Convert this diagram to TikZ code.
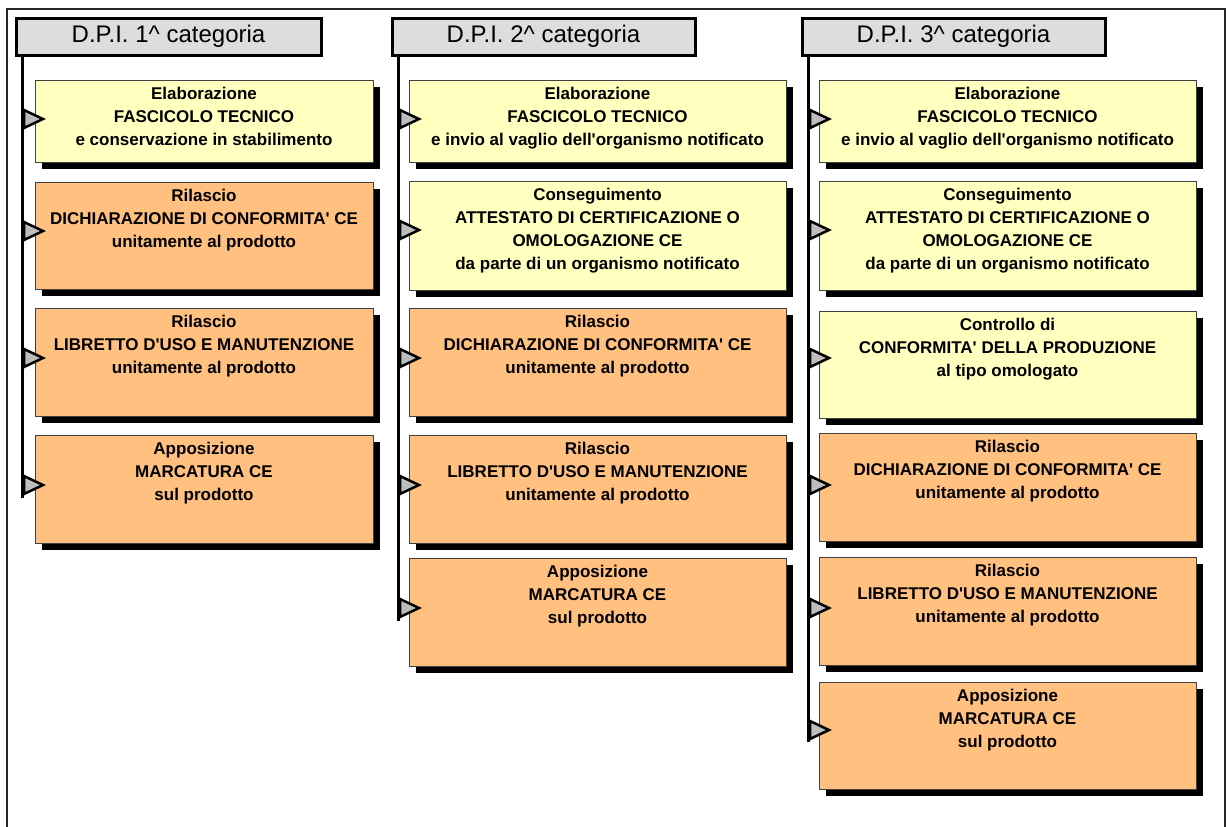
\documentclass[tikz,border=0pt]{standalone}
\usepackage{fontspec}
\setmainfont{Liberation Sans}
\usetikzlibrary{shadows}
\definecolor{boxyellow}{HTML}{FFFFC0}
\definecolor{boxorange}{HTML}{FFC080}
\definecolor{headgray}{HTML}{DDDDDD}
\definecolor{trigray}{HTML}{BDBDBD}
\definecolor{boxline}{HTML}{404040}
\newcommand{\apos}{\textquotesingle}
\newcommand{\mybox}[7]{%
  \node[box,#6,minimum width=#5,minimum height={#4-#3}] (#1) at (#2,{(#3+#4)/2}) {};
  \node[boxtext] (#1t) at ([yshift=-7pt]#1.north) {#7};
}
\newcommand{\mytri}[3]{%
  \coordinate (#1) at (#2,#3);
  \draw[tri] (#1) ++(2,-9) -- ++(19,9) -- ++(-19,9) -- cycle;
}
\begin{document}
\begin{tikzpicture}[x=1pt,y=-1pt,
  frame/.style={draw=black!85,line width=2pt},
  header/.style={draw=black,line width=3pt,fill=headgray,minimum width=303,minimum height=37,inner sep=0pt,font=\fontsize{24}{28}\selectfont},
  box/.style={draw=boxline,line width=0.8pt,inner sep=0pt,
    drop shadow={shadow xshift=6.5pt,shadow yshift=-6.5pt,fill=black,opacity=1}},
  yel/.style={fill=boxyellow},
  ora/.style={fill=boxorange},
  boxtext/.style={anchor=north,align=center,inner sep=0pt,font=\fontsize{17}{23}\selectfont\bfseries},
  tri/.style={draw=black,line width=2.5pt,fill=trigray,line join=miter},
  vline/.style={draw=black,line width=3pt}]
\useasboundingbox (0,0) rectangle (1226,827);
\fill[white] (0,0) rectangle (1226,827);
\draw[frame] (7,827) -- (7,9) -- (1225,9) -- (1225,827);

% headers
\node[header,minimum width=305] (h1) at (168.5,36.5) {D.P.I. 1\textasciicircum{} categoria};
\node[header] (h2) at (543.5,36.5) {D.P.I. 2\textasciicircum{} categoria};
\node[header] (h3) at (953.5,36.5) {D.P.I. 3\textasciicircum{} categoria};

% column 1
\mybox{a1}{204}{80}{162}{338}{yel}{Elaborazione\\FASCICOLO TECNICO\\e conservazione in stabilimento}
\mybox{a2}{204}{182}{289}{338}{ora}{Rilascio\\DICHIARAZIONE DI CONFORMITA\apos{} CE\\unitamente al prodotto}
\mybox{a3}{204}{308}{416}{338}{ora}{Rilascio\\LIBRETTO D\apos{}USO E MANUTENZIONE\\unitamente al prodotto}
\mybox{a4}{204}{435}{543}{338}{ora}{Apposizione\\MARCATURA CE\\sul prodotto}
\draw[vline] (h1.south -| 22,0) -- (22,498);
\mytri{ta1}{22}{119}
\mytri{ta2}{22}{231}
\mytri{ta3}{22}{358}
\mytri{ta4}{22}{485}

% column 2
\mybox{b1}{597.5}{80}{162}{377}{yel}{Elaborazione\\FASCICOLO TECNICO\\e invio al vaglio dell\apos{}organismo notificato}
\mybox{b2}{597.5}{181}{290}{377}{yel}{Conseguimento\\ATTESTATO DI CERTIFICAZIONE O\\OMOLOGAZIONE CE\\da parte di un organismo notificato}
\mybox{b3}{597.5}{308}{416}{377}{ora}{Rilascio\\DICHIARAZIONE DI CONFORMITA\apos{} CE\\unitamente al prodotto}
\mybox{b4}{597.5}{435}{543}{377}{ora}{Rilascio\\LIBRETTO D\apos{}USO E MANUTENZIONE\\unitamente al prodotto}
\mybox{b5}{597.5}{558}{666}{377}{ora}{Apposizione\\MARCATURA CE\\sul prodotto}
\draw[vline] (h2.south -| 398,0) -- (398,621);
\mytri{tb1}{398}{119}
\mytri{tb2}{398}{230}
\mytri{tb3}{398}{358}
\mytri{tb4}{398}{485}
\mytri{tb5}{398}{608}

% column 3
\mybox{c1}{1007.5}{80}{162}{377}{yel}{Elaborazione\\FASCICOLO TECNICO\\e invio al vaglio dell\apos{}organismo notificato}
\mybox{c2}{1007.5}{181}{290}{377}{yel}{Conseguimento\\ATTESTATO DI CERTIFICAZIONE O\\OMOLOGAZIONE CE\\da parte di un organismo notificato}
\mybox{c3}{1007.5}{311}{418}{377}{yel}{Controllo di\\CONFORMITA\apos{} DELLA PRODUZIONE\\al tipo omologato}
\mybox{c4}{1007.5}{433}{541}{377}{ora}{Rilascio\\DICHIARAZIONE DI CONFORMITA\apos{} CE\\unitamente al prodotto}
\mybox{c5}{1007.5}{557}{665}{377}{ora}{Rilascio\\LIBRETTO D\apos{}USO E MANUTENZIONE\\unitamente al prodotto}
\mybox{c6}{1007.5}{682}{789}{377}{ora}{Apposizione\\MARCATURA CE\\sul prodotto}
\draw[vline] (h3.south -| 808,0) -- (808,742);
\mytri{tc1}{808}{119}
\mytri{tc2}{808}{230}
\mytri{tc3}{808}{358}
\mytri{tc4}{808}{485}
\mytri{tc5}{808}{608}
\mytri{tc6}{808}{730}
\end{tikzpicture}
\end{document}
